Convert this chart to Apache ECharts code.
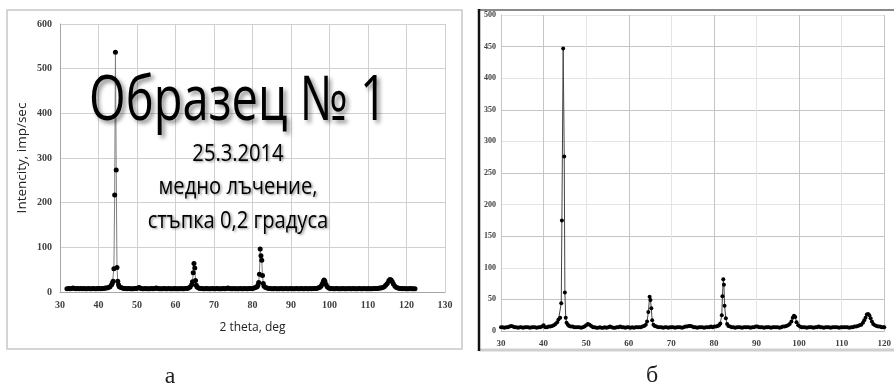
<!DOCTYPE html>
<html><head><meta charset="utf-8">
<script src="https://cdn.jsdelivr.net/npm/echarts@6/dist/echarts.min.js"></script>
<style>html,body{margin:0;padding:0;background:#fff}#c{width:894px;height:387px}</style>
</head><body><div id="c"></div>
<script>
// Panel (a): 2 theta (deg), intensity (imp/sec)
const scanA = [[31.8,7],[32.2,8],[32.6,7],[33.0,8],[33.4,9],[33.8,8],[34.2,7],[34.6,8],[35.0,7],[35.4,8],[35.8,7],[36.2,8],[36.6,7],[37.0,7],[37.4,8],[37.8,7],[38.2,7],[38.6,8],[39.0,7],[39.4,7],[39.8,8],[40.2,8],[40.6,7],[41.0,8],[41.4,8],[41.8,9],[42.2,9],[42.6,10],[43.0,12],[43.4,16],[43.6,20],[43.8,24],[44.0,52],[44.2,217],[44.4,537],[44.6,273],[44.8,55],[45.0,24],[45.2,16],[45.4,12],[45.8,10],[46.2,9],[46.6,8],[47.0,8],[47.4,7],[47.8,8],[48.2,7],[48.6,7],[49.0,7],[49.4,8],[49.8,8],[50.2,9],[50.6,10],[51.0,8],[51.4,7],[51.8,7],[52.2,8],[52.6,7],[53.0,7],[53.4,7],[53.8,8],[54.2,7],[54.6,8],[55.0,9],[55.4,8],[55.8,7],[56.2,7],[56.6,7],[57.0,8],[57.4,7],[57.8,7],[58.2,8],[58.6,7],[59.0,7],[59.4,7],[59.8,8],[60.2,7],[60.6,7],[61.0,7],[61.4,8],[61.8,7],[62.2,7],[62.6,8],[63.0,8],[63.4,9],[63.8,11],[64.2,16],[64.4,23],[64.6,43],[64.8,64],[65.0,54],[65.2,26],[65.4,15],[65.6,11],[66.0,9],[66.4,8],[66.8,8],[67.2,7],[67.6,7],[68.0,8],[68.4,7],[68.8,7],[69.2,7],[69.6,8],[70.0,7],[70.4,7],[70.8,8],[71.2,7],[71.6,7],[72.0,7],[72.4,8],[72.8,7],[73.2,8],[73.6,9],[74.0,8],[74.4,7],[74.8,7],[75.2,8],[75.6,7],[76.0,7],[76.4,7],[76.8,8],[77.2,7],[77.6,7],[78.0,8],[78.4,7],[78.8,7],[79.2,8],[79.6,8],[80.0,8],[80.4,9],[80.8,10],[81.2,12],[81.4,15],[81.6,21],[81.8,40],[82.0,96],[82.2,81],[82.4,71],[82.6,37],[82.8,19],[83.0,13],[83.4,10],[83.8,9],[84.2,8],[84.6,8],[85.0,7],[85.4,7],[85.8,8],[86.2,7],[86.6,7],[87.0,7],[87.4,8],[87.8,7],[88.2,7],[88.6,8],[89.0,7],[89.4,7],[89.8,8],[90.2,7],[90.6,7],[91.0,7],[91.4,8],[91.8,7],[92.2,7],[92.6,8],[93.0,7],[93.4,7],[93.8,8],[94.2,7],[94.6,7],[95.0,8],[95.4,7],[95.8,8],[96.2,8],[96.6,8],[97.0,9],[97.4,10],[97.8,13],[98.1,18],[98.4,24],[98.6,27],[98.8,24],[99.1,17],[99.4,12],[99.8,9],[100.2,8],[100.6,8],[101.0,7],[101.4,7],[101.8,8],[102.2,7],[102.6,7],[103.0,7],[103.4,8],[103.8,7],[104.2,7],[104.6,7],[105.0,8],[105.4,7],[105.8,7],[106.2,8],[106.6,7],[107.0,7],[107.4,7],[107.8,8],[108.2,7],[108.6,7],[109.0,8],[109.4,7],[109.8,7],[110.2,8],[110.6,7],[111.0,7],[111.4,8],[111.8,8],[112.2,8],[112.6,8],[113.0,9],[113.4,9],[113.8,10],[114.2,12],[114.6,15],[115.0,19],[115.4,25],[115.7,28],[116.0,27],[116.3,23],[116.6,18],[117.0,13],[117.4,10],[117.8,9],[118.2,8],[118.6,8],[119.0,7],[119.4,8],[119.8,7],[120.2,7],[120.6,7],[121.0,8],[121.4,7],[121.8,7],[122.2,7]];

// Panel (б)
const scanB = [[30.0,6],[30.4,6],[30.8,5],[31.2,6],[31.6,6],[32.0,7],[32.4,8],[32.8,7],[33.2,6],[33.6,6],[34.0,5],[34.4,6],[34.8,6],[35.2,5],[35.6,6],[36.0,6],[36.4,6],[36.8,5],[37.2,6],[37.6,6],[38.0,6],[38.4,5],[38.8,6],[39.2,6],[39.6,7],[40.0,9],[40.4,6],[40.8,6],[41.2,7],[41.6,7],[42.0,8],[42.4,9],[42.8,11],[43.2,14],[43.5,18],[43.9,21],[44.15,44],[44.3,175],[44.6,447],[44.85,276],[45.0,61],[45.2,21],[45.4,13],[45.7,10],[46.0,8],[46.4,7],[46.8,7],[47.2,6],[47.6,6],[48.0,6],[48.4,6],[48.8,5],[49.2,6],[49.6,7],[50.0,9],[50.4,11],[50.8,10],[51.2,8],[51.6,6],[52.0,6],[52.4,5],[52.8,5],[53.2,6],[53.6,5],[54.0,5],[54.4,6],[54.8,5],[55.2,6],[55.6,7],[56.0,6],[56.4,5],[56.8,5],[57.2,6],[57.6,6],[58.0,7],[58.4,6],[58.8,6],[59.2,5],[59.6,6],[60.0,6],[60.4,5],[60.8,6],[61.2,5],[61.6,6],[62.0,6],[62.4,6],[62.8,6],[63.2,7],[63.6,8],[64.0,10],[64.3,15],[64.6,30],[64.9,54],[65.1,49],[65.3,36],[65.5,17],[65.8,10],[66.1,8],[66.5,7],[66.9,6],[67.3,6],[67.7,6],[68.1,5],[68.5,6],[68.9,6],[69.3,5],[69.7,6],[70.1,6],[70.5,6],[70.9,5],[71.3,6],[71.7,6],[72.1,6],[72.5,5],[72.9,6],[73.3,7],[73.7,7],[74.1,8],[74.5,8],[74.9,7],[75.3,6],[75.7,6],[76.1,5],[76.5,6],[76.9,6],[77.3,6],[77.7,5],[78.1,6],[78.5,6],[78.9,6],[79.3,7],[79.7,6],[80.1,7],[80.5,7],[80.9,8],[81.2,9],[81.5,12],[81.85,25],[82.0,55],[82.2,82],[82.35,73],[82.5,40],[82.8,20],[83.1,11],[83.4,8],[83.8,7],[84.2,6],[84.6,6],[85.0,5],[85.4,6],[85.8,6],[86.2,6],[86.6,5],[87.0,6],[87.4,6],[87.8,6],[88.2,6],[88.6,5],[89.0,6],[89.4,6],[89.8,7],[90.2,7],[90.6,6],[91.0,6],[91.4,6],[91.8,5],[92.2,6],[92.6,6],[93.0,6],[93.4,5],[93.8,6],[94.2,6],[94.6,6],[95.0,6],[95.4,5],[95.8,6],[96.2,7],[96.6,7],[97.0,8],[97.4,9],[97.8,11],[98.2,15],[98.5,21],[98.8,24],[99.1,22],[99.4,14],[99.8,9],[100.2,7],[100.6,6],[101.0,6],[101.4,6],[101.8,5],[102.2,6],[102.6,6],[103.0,6],[103.4,5],[103.8,6],[104.2,6],[104.6,7],[105.0,6],[105.4,6],[105.8,5],[106.2,6],[106.6,6],[107.0,6],[107.4,5],[107.8,6],[108.2,6],[108.6,6],[109.0,6],[109.4,5],[109.8,6],[110.2,6],[110.6,6],[111.0,6],[111.4,6],[111.8,5],[112.2,6],[112.6,6],[113.0,7],[113.4,7],[113.8,8],[114.2,9],[114.6,10],[115.0,13],[115.3,17],[115.6,21],[115.9,26],[116.2,27],[116.5,25],[116.8,20],[117.1,15],[117.4,11],[117.8,9],[118.2,8],[118.6,7],[119.0,7],[119.4,6],[119.8,6],[120.0,6]];

const titleMain = 'Образец № 1';
const noteLines = ['25.3.2014', 'медно лъчение,', 'стъпка 0,2 градуса'];
const axisNameA_y = 'Intencity, imp/sec';
const axisNameA_x = '2 theta, deg';
const panelLabels = ['а', 'б'];

const chart = echarts.init(document.getElementById('c'), null, {renderer: 'canvas'});
const labelFont = {fontFamily: 'Liberation Serif', fontWeight: 'bold', color: '#404040'};

function shadowed(text, size, x, y, sx, off) {
  return {type: 'text', x: x, y: y, scaleX: sx, silent: true, z: 50,
    style: {text: text, font: size + 'px "Open Sans"', fill: '#000', align: 'center', verticalAlign: 'top',
      textShadowColor: 'rgba(0,0,0,0.45)', textShadowBlur: off + 1, textShadowOffsetX: off, textShadowOffsetY: off}};
}

chart.setOption({
  animation: false,
  backgroundColor: '#fff',
  grid: [
    {left: 60, top: 24, width: 385, height: 268},
    {left: 501, top: 15, width: 386, height: 316}
  ],
  xAxis: [
    {type: 'value', gridIndex: 0, min: 30, max: 130, interval: 10,
      axisLine: {onZero: false, lineStyle: {color: '#a6a6a6'}}, axisTick: {show: false},
      axisLabel: Object.assign({fontSize: 10, margin: 8}, labelFont),
      splitLine: {show: true, lineStyle: {color: '#d0d0d0', width: 1}},
      name: axisNameA_x, nameLocation: 'middle', nameGap: 30,
      nameTextStyle: {fontFamily: 'Open Sans', fontSize: 12, color: '#222'}},
    {type: 'value', gridIndex: 1, min: 30, max: 120, interval: 10,
      axisLine: {onZero: false, lineStyle: {color: '#bdbdbd'}}, axisTick: {show: false},
      axisLabel: Object.assign({fontSize: 9, margin: 8}, labelFont),
      splitLine: {show: true, lineStyle: {color: ['#e4e4e4', '#c4c4c4'], width: 1}}}
  ],
  yAxis: [
    {type: 'value', gridIndex: 0, min: 0, max: 600, interval: 100,
      axisLine: {show: true, lineStyle: {color: '#a6a6a6'}}, axisTick: {show: false},
      axisLabel: Object.assign({fontSize: 10, margin: 8}, labelFont),
      splitLine: {show: true, lineStyle: {color: '#d0d0d0', width: 1}},
      name: axisNameA_y, nameLocation: 'middle', nameGap: 31, nameRotate: 90,
      nameTextStyle: {fontFamily: 'Open Sans', fontSize: 13.5, color: '#222'}},
    {type: 'value', gridIndex: 1, min: 0, max: 500, interval: 50,
      axisLine: {show: true, lineStyle: {color: '#c4c4c4'}}, axisTick: {show: false},
      axisLabel: Object.assign({fontSize: 8, margin: 5}, labelFont),
      splitLine: {show: true, lineStyle: {color: ['#e4e4e4', '#c4c4c4'], width: 1}}}
  ],
  series: [
    {type: 'line', xAxisIndex: 0, yAxisIndex: 0, data: scanA,
      symbol: 'circle', symbolSize: 5, showSymbol: true,
      lineStyle: {color: '#7f7f7f', width: 1}, itemStyle: {color: '#000'}},
    {type: 'line', xAxisIndex: 1, yAxisIndex: 1, data: scanB,
      symbol: 'circle', symbolSize: 4, showSymbol: true,
      lineStyle: {color: '#444', width: 1}, itemStyle: {color: '#000'}}
  ],
  graphic: [
    {type: 'rect', shape: {x: 7, y: 10, width: 455, height: 339}, style: {fill: 'none', stroke: '#c8c8c8', lineWidth: 1.5}, silent: true},
    {type: 'line', shape: {x1: 479, y1: 10, x2: 894, y2: 10}, style: {stroke: '#8a8a8a', lineWidth: 2}, silent: true},
    {type: 'line', shape: {x1: 479, y1: 350, x2: 894, y2: 350}, style: {stroke: '#cfcfcf', lineWidth: 3}, silent: true},
    {type: 'line', shape: {x1: 479, y1: 9, x2: 479, y2: 351}, style: {stroke: '#111', lineWidth: 2.5}, silent: true},
    shadowed(titleMain, 62, 238, 71, 0.76, 3),
    shadowed(noteLines[0], 24, 238, 142, 0.84, 1.5),
    shadowed(noteLines[1], 24, 238, 175, 0.84, 1.5),
    shadowed(noteLines[2], 24, 238, 209, 0.84, 1.5),
    {type: 'text', x: 170, y: 377, style: {text: panelLabels[0], font: '24px "Liberation Serif"', fill: '#222', align: 'center', verticalAlign: 'middle'}, silent: true},
    {type: 'text', x: 652, y: 376, style: {text: panelLabels[1], font: '24px "Liberation Serif"', fill: '#222', align: 'center', verticalAlign: 'middle'}, silent: true}
  ]
});
</script></body></html>
